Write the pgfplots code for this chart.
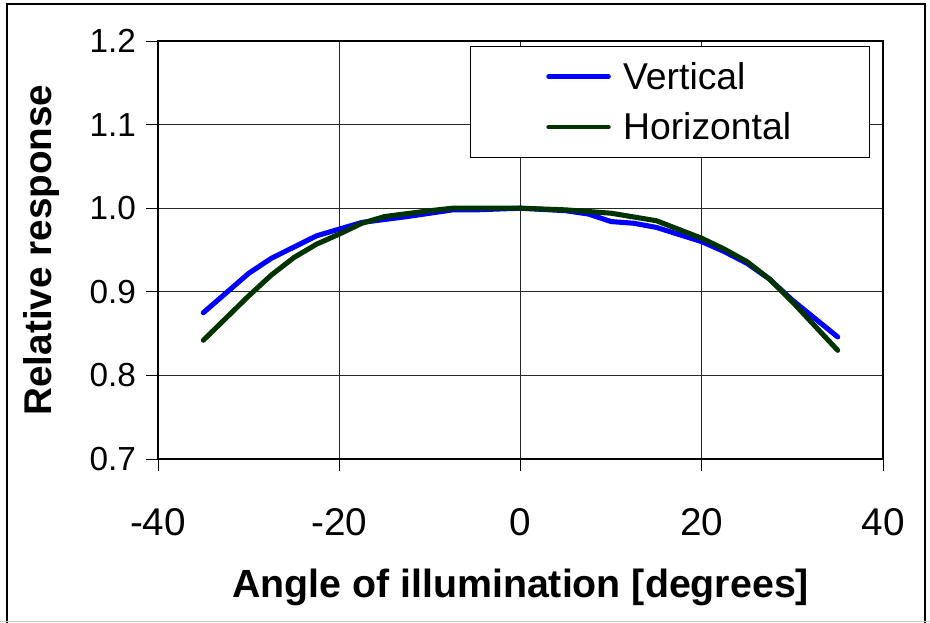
\documentclass[border=0pt]{standalone}
\usepackage{pgfplots}
\pgfplotsset{compat=1.18}
\usepackage{fontspec}
\setmainfont{Liberation Sans}
\definecolor{vblue}{RGB}{0,0,255}
\definecolor{hgreen}{RGB}{0,51,0}
\begin{document}
\begin{tikzpicture}
\path[use as bounding box] (0,0) rectangle (697.5pt,466.5pt);
\draw[line width=1.2pt] (5.25pt,-2pt) -- (5.25pt,463.5pt) -- (693.75pt,463.5pt) -- (693.75pt,-2pt);
\draw[gray!40, line width=1pt] (0,0.4pt) -- (697.5pt,0.4pt);
\begin{axis}[
  at={(118.5pt,122.25pt)}, anchor=south west,
  width=543.75pt, height=313.5pt, scale only axis,
  xmin=-40, xmax=40, ymin=0.7, ymax=1.2,
  xtick={-40,-20,0,20,40}, ytick={0.7,0.8,0.9,1.0,1.1,1.2},
  xtick pos=bottom, ytick pos=left,
  tick align=outside, major tick length=9pt,
  tick style={black, line width=0.6pt},
  xmajorgrids, ymajorgrids,
  grid style={black!85, line width=0.6pt},
  axis line style={black, line width=1.1pt},
  /pgf/number format/assume math mode=true,
  yticklabel style={/pgf/number format/fixed, /pgf/number format/fixed zerofill, /pgf/number format/precision=1},
  yticklabel style={font=\fontsize{25}{30}\selectfont, anchor=east, xshift=-4pt},
  xticklabel style={font=\fontsize{29}{33}\selectfont, anchor=base, yshift=-48pt},
  xlabel={\bfseries Angle of illumination [degrees]},
  ylabel={\bfseries Relative response},
  xlabel style={font=\fontsize{29.5}{33}\selectfont, at={(axis description cs:0.5,0)}, anchor=base, yshift=-103.5pt},
  ylabel style={font=\fontsize{29}{33}\selectfont, at={(axis description cs:0,0.5)}, anchor=center, yshift=87pt},
  legend style={at={(0.43,0.989)}, anchor=north west, font=\fontsize{28}{33}\selectfont,
    draw=black, line width=0.8pt, inner xsep=57pt, inner ysep=10pt, row sep=12pt,
    legend cell align=left},
  legend image code/.code={\draw[#1, line width=3.4pt, line cap=round] (0pt,0pt) -- (45pt,0pt); \path (52pt,0pt);},
]
\addplot[vblue, line width=3.8pt, line cap=round, line join=round] coordinates {
(-35,0.875) (-30,0.922) (-27.5,0.940) (-22.5,0.967) (-17.5,0.983) (-12.5,0.990) (-7.5,0.998) (-5,0.998) (0,1.000) (5,0.997) (7.5,0.993) (10,0.984) (12.5,0.982) (15,0.977) (20,0.960) (22.5,0.948) (25,0.934) (27.5,0.915) (30,0.890) (35,0.846)
};
\addlegendentry{Vertical}
\addplot[hgreen, line width=3.8pt, line cap=round, line join=round] coordinates {
(-35,0.842) (-30,0.895) (-27.5,0.920) (-25,0.941) (-22.5,0.957) (-20,0.969) (-17.5,0.982) (-15,0.990) (-10,0.997) (-7.5,1.000) (-5,1.000) (0,1.000) (5,0.998) (10,0.994) (15,0.985) (20,0.964) (22.5,0.951) (25,0.936) (27.5,0.915) (30,0.888) (35,0.830)
};
\addlegendentry{Horizontal}
\end{axis}
\end{tikzpicture}
\end{document}
